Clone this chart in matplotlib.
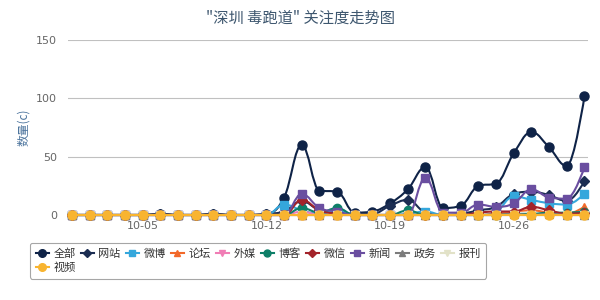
import matplotlib
matplotlib.use("Agg")
import matplotlib.pyplot as plt
import numpy as np
from matplotlib.path import Path
from matplotlib.patches import PathPatch
from matplotlib.lines import Line2D

plt.rcParams['font.family'] = ['Noto Sans CJK SC', 'DejaVu Sans']

dates = ['10-01', '10-02', '10-03', '10-04', '10-05', '10-06', '10-07', '10-08', '10-09', '10-10',
         '10-11', '10-12', '10-13', '10-14', '10-15', '10-16', '10-17', '10-18', '10-19', '10-20',
         '10-21', '10-22', '10-23', '10-24', '10-25', '10-26', '10-27', '10-28', '10-29', '10-30']
tick_labels = ['10-05', '10-12', '10-19', '10-26']

names = ['全部', '网站', '微博', '论坛', '外媒', '博客', '微信', '新闻', '政务', '报刊', '视频']

quanbu = [0, 0, 0, 0, 0, 1, 0, 0, 1, 0, 0, 1, 15, 60, 21, 20, 2, 3, 10, 22, 41, 6, 8, 25, 27, 53, 71, 58, 42, 102]
wangzhan = [0, 0, 0, 0, 0, 1, 0, 0, 1, 0, 0, 1, 3, 12, 4, 2, 1, 1, 8, 13, 2, 0, 1, 4, 7, 18, 20, 17, 12, 29]
weibo = [0, 0, 0, 0, 0, 0, 0, 0, 0, 0, 0, 0, 9, 4, 1, 4, 0, 0, 0, 1, 3, 0, 0, 0, 3, 16, 13, 10, 9, 18]
luntan = [0, 0, 0, 0, 0, 0, 0, 0, 0, 0, 0, 0, 0, 0, 0, 0, 0, 0, 0, 0, 0, 0, 0, 0, 1, 3, 4, 2, 1, 7]
waimei = [0, 0, 0, 0, 0, 0, 0, 0, 0, 0, 0, 0, 0, 3, 0, 0, 0, 0, 0, 0, 0, 0, 0, 0, 0, 0, 0, 0, 0, 0]
boke = [0, 0, 0, 0, 0, 0, 0, 0, 0, 0, 0, 0, 0, 6, 2, 6, 0, 0, 0, 4, 0, 0, 0, 0, 0, 1, 1, 2, 2, 3]
weixin = [0, 0, 0, 0, 0, 0, 0, 0, 0, 0, 0, 0, 0, 13, 4, 1, 0, 0, 0, 0, 0, 0, 0, 2, 3, 3, 7, 4, 1, 2]
xinwen = [0, 0, 0, 0, 0, 0, 0, 0, 0, 0, 0, 0, 0, 18, 6, 3, 0, 0, 0, 0, 32, 2, 2, 9, 7, 10, 22, 15, 14, 41]
zhengwu = [0, 0, 0, 0, 0, 0, 0, 0, 0, 0, 0, 0, 0, 0, 0, 0, 0, 0, 0, 0, 0, 0, 0, 0, 0, 1, 0, 1, 0, 0]
baokan = [0] * 30
shipin = [0] * 30

series = [quanbu, wangzhan, weibo, luntan, waimei, boke, weixin, xinwen, zhengwu, baokan, shipin]
colors = ['#0f2347', '#1b2d52', '#35a7dc', '#f2692a', '#f07db5', '#0e7f68',
          '#a3232a', '#6a4ea0', '#7c7c7c', '#e2e2c8', '#f8b430']
markers = ['o', 'D', 's', '^', 'v', 'o', 'D', 's', '^', 'v', 'o']
msizes = [6.5, 5, 6, 6, 6, 6, 5, 6, 6, 6, 6.5]


def spline_path(xs, ys, smoothing=1.5):
    n = len(xs)
    denom = smoothing + 1
    lc = [None] * n
    rc = [None] * n
    for i in range(1, n - 1):
        px, py = xs[i], ys[i]
        lx, ly = xs[i - 1], ys[i - 1]
        nx, ny = xs[i + 1], ys[i + 1]
        lcx = (smoothing * px + lx) / denom
        lcy = (smoothing * py + ly) / denom
        rcx = (smoothing * px + nx) / denom
        rcy = (smoothing * py + ny) / denom
        if rcx != lcx:
            corr = ((rcy - lcy) * (rcx - px)) / (rcx - lcx) + py - rcy
            lcy += corr
            rcy += corr
        if lcy > ly and lcy > py:
            lcy = max(ly, py)
            rcy = 2 * py - lcy
        elif lcy < ly and lcy < py:
            lcy = min(ly, py)
            rcy = 2 * py - lcy
        if rcy > ny and rcy > py:
            rcy = max(ny, py)
            lcy = 2 * py - rcy
        elif rcy < ny and rcy < py:
            rcy = min(ny, py)
            lcy = 2 * py - rcy
        lc[i] = (lcx, lcy)
        rc[i] = (rcx, rcy)
    verts = [(xs[0], ys[0])]
    codes = [Path.MOVETO]
    for i in range(1, n):
        c1 = rc[i - 1] if rc[i - 1] is not None else (xs[i - 1], ys[i - 1])
        c2 = lc[i] if lc[i] is not None else (xs[i], ys[i])
        verts += [c1, c2, (xs[i], ys[i])]
        codes += [Path.CURVE4] * 3
    return Path(verts, codes)


fig = plt.figure(figsize=(6, 3), dpi=100)
ax = fig.add_axes([68 / 600, 1 - 215 / 300, 520 / 600, 175 / 300])

x = np.arange(len(dates))
handles = []
for i, (name, vals) in enumerate(zip(names, series)):
    p = spline_path(list(x.astype(float)), [float(v) for v in vals])
    patch = PathPatch(p, facecolor='none', edgecolor=colors[i], lw=1.5,
                      zorder=3 + 2 * i, clip_on=False)
    ax.add_patch(patch)
    ax.plot(x, vals, linestyle='none', marker=markers[i], ms=msizes[i],
            color=colors[i], mec=colors[i], zorder=4 + 2 * i, clip_on=False)
    handles.append(Line2D([0], [0], color=colors[i], lw=1.5, marker=markers[i],
                          ms=msizes[i] - 1, label=name))

ax.set_xlim(-0.23, 29.2)
ax.set_ylim(0, 150)
ax.set_yticks([0, 50, 100, 150])
ax.yaxis.grid(True, color='#c0c0c0', lw=0.8)
ax.set_axisbelow(True)
for s in ['top', 'right', 'left']:
    ax.spines[s].set_visible(False)
ax.spines['bottom'].set_color('#c0d0e0')
ax.spines['bottom'].set_linewidth(0.8)

tpos = [dates.index(t) for t in tick_labels]
ax.set_xticks(tpos)
ax.set_xticklabels(tick_labels)
ax.tick_params(axis='x', length=0, pad=4, labelsize=8, labelcolor='#666666')
ax.tick_params(axis='y', length=0, pad=8, labelsize=8, labelcolor='#666666')
for lab in ax.get_xticklabels() + ax.get_yticklabels():
    lab.set_family('DejaVu Sans')

ax.set_ylabel('数量(c)', color='#4d759e', fontsize=8.5, labelpad=4)

fig.text(0.5, 1 - 18 / 300, '"深圳 毒跑道" 关注度走势图', ha='center', va='center',
         fontsize=11, color='#3e576f')

order = [0, 10, 1, 2, 3, 4, 5, 6, 7, 8, 9]
leg = ax.legend([handles[k] for k in order], [names[k] for k in order], ncol=10,
                loc='upper left', bbox_to_anchor=(30 / 600, 1 - 243 / 300),
                bbox_transform=fig.transFigure, borderaxespad=0, fontsize=8,
                handlelength=1.2, handletextpad=0.4, columnspacing=0.45,
                labelspacing=0.3, borderpad=0.5, frameon=True, fancybox=True)
leg.get_frame().set_edgecolor('#909090')
leg.get_frame().set_linewidth(0.8)
for t in leg.get_texts():
    t.set_color('#333333')

fig.savefig('out.png', dpi=100)
